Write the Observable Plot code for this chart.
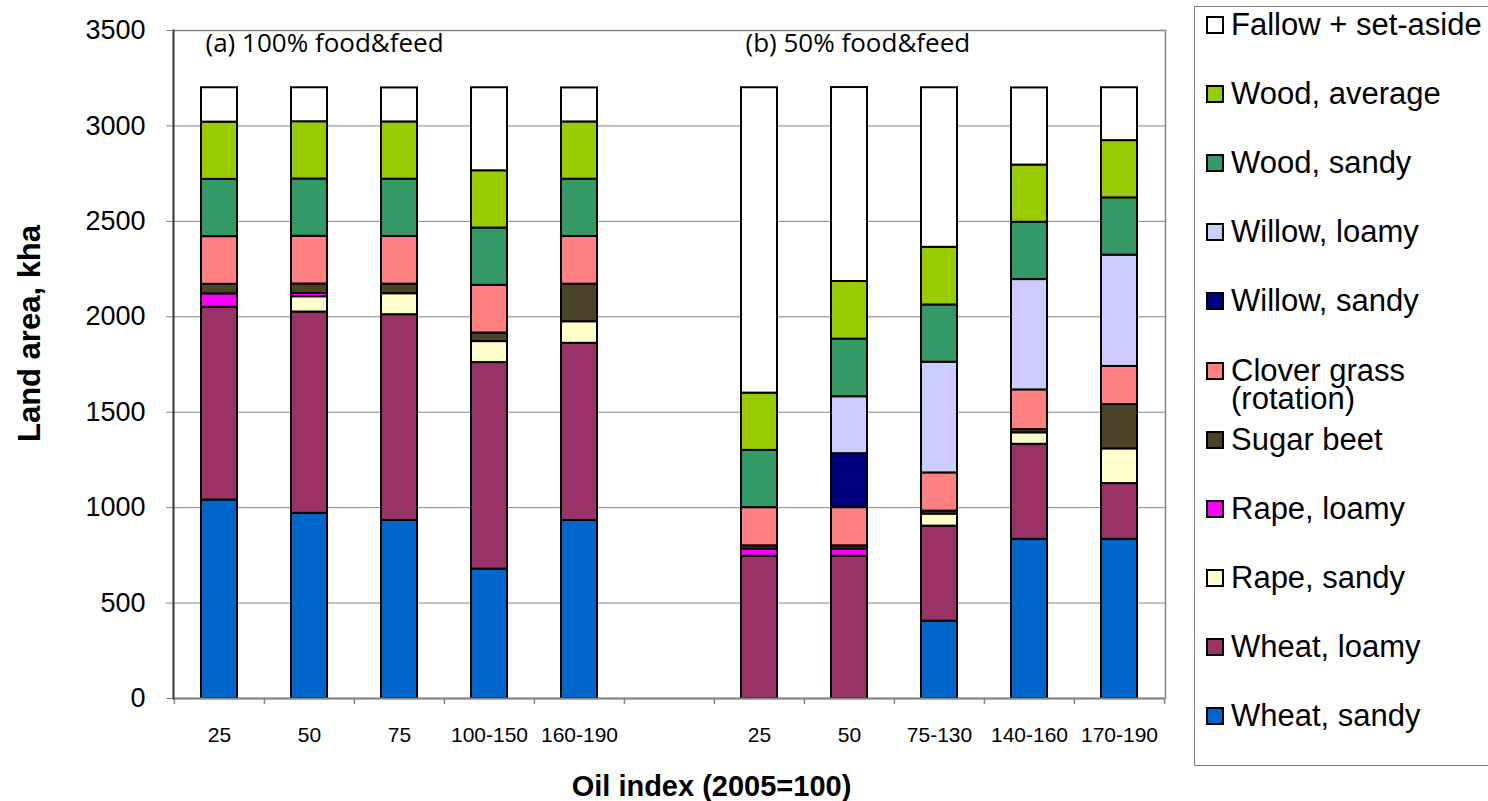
<!DOCTYPE html>
<html>
<head>
<meta charset="utf-8">
<script src="https://cdn.jsdelivr.net/npm/d3@7"></script>
<script src="https://cdn.jsdelivr.net/npm/@observablehq/plot@0.6"></script>
<style>
  body { margin: 0; background: #fff; }
  #wrap { position: relative; width: 1488px; height: 801px; overflow: hidden; font-family: "Liberation Sans", Arial, sans-serif; }
  #wrap svg { position: absolute; left: 0; top: 0; }
  #legend { position: absolute; left: 1194px; top: 6px; width: 320px; height: 760px; border: 1px solid #808080; box-sizing: border-box; background: #fff; }
  .item { position: absolute; left: 11px; display: flex; align-items: flex-start; font-size: 31px; line-height: 28px; color: #000; }
  .sw { width: 14px; height: 14px; border: 2px solid #000; margin-top: 5px; margin-right: 7px; flex: none; }
  .lab { width: 264px; white-space: normal; }
</style>
</head>
<body>
<div id="wrap"></div>
<script>
// Categories (oil index) — index 5 is the empty gap between the two panels
const categories = ["25", "50", "75", "100-150", "160-190", "", "25", "50", "75-130", "140-160", "170-190"];
// Series, bottom to top in the stack
const series = ["Wheat, sandy", "Wheat, loamy", "Rape, sandy", "Rape, loamy", "Sugar beet",
  "Clover grass (rotation)", "Willow, sandy", "Willow, loamy", "Wood, sandy", "Wood, average", "Fallow + set-aside"];
const colors = ["#0066cc", "#993366", "#ffffcc", "#ff00ff", "#4c4228",
  "#ff8080", "#000080", "#ccccff", "#339966", "#99cc00", "#ffffff"];

// Values (kha) per category
const wheatSandy  = [1040,  970,  933,  678,  933, 0,    0,    0,  405,  834,  834];
const wheatLoamy  = [1010, 1055, 1078, 1082,  928, 0,  745,  745,  498,  498,  292];
const rapeSandy   = [   0,   80,  110,  110,  113, 0,    0,    0,   63,   60,  182];
const rapeLoamy   = [  70,   17,    0,    0,    0, 0,   38,   38,    0,    0,    0];
const sugarBeet   = [  50,   50,   50,   45,  197, 0,   17,   17,   16,   17,  232];
const cloverGrass = [ 250,  250,  250,  250,  250, 0,  200,  200,  200,  208,  200];
const willowSandy = [   0,    0,    0,    0,    0, 0,    0,  283,    0,    0,    0];
const willowLoamy = [   0,    0,    0,    0,    0, 0,    0,  298,  580,  578,  583];
const woodSandy   = [ 300,  300,  300,  300,  300, 0,  300,  302,  300,  300,  300];
const woodAverage = [ 300,  300,  300,  300,  300, 0,  300,  302,  302,  300,  300];
const fallow      = [ 180,  178,  178,  435,  178, 0, 1600, 1016,  836,  404,  277];

const yTicks = [0, 500, 1000, 1500, 2000, 2500, 3000, 3500];
const panelLabels = [
  {cat: 0, label: "(a) 100% food&feed"},
  {cat: 6, label: "(b) 50% food&feed"}
];
const xTitle = "Oil index (2005=100)";
const yTitle = "Land area, kha";

const values = [wheatSandy, wheatLoamy, rapeSandy, rapeLoamy, sugarBeet, cloverGrass,
  willowSandy, willowLoamy, woodSandy, woodAverage, fallow];

const keys = categories.map((c, i) => i + "|" + c);
const data = [];
series.forEach((s, j) => values[j].forEach((v, i) => {
  if (v > 0) data.push({key: keys[i], series: s, value: v});
}));
const labels = panelLabels.map(d => ({key: keys[d.cat], label: d.label}));

const width = 1488, height = 801;
const mL = 173, mR = 323, mT = 30, mB = 103;
const step = (width - mL - mR) / keys.length;
const fmt = k => k.split("|")[1];
const gray = "#868686";

const chart = Plot.plot({
  width, height,
  marginLeft: mL, marginRight: mR, marginTop: mT, marginBottom: mB,
  style: {fontFamily: "'Liberation Sans', Arial, sans-serif", background: "transparent", color: "#000", overflow: "visible"},
  x: {type: "band", domain: keys, paddingInner: 0.6, paddingOuter: 0.3, tickFormat: fmt, label: null},
  y: {domain: [0, 3500], label: null},
  color: {type: "ordinal", domain: series, range: colors},
  marks: [
    Plot.gridY(yTicks, {stroke: gray, strokeOpacity: 1, strokeWidth: 1}),
    Plot.frame({stroke: gray, strokeWidth: 1.5}),
    Plot.barY(data, {x: "key", y: "value", fill: "series", stroke: "#000", strokeWidth: 2}),
    Plot.ruleY([0], {stroke: gray, strokeWidth: 2}),
    Plot.axisY(yTicks, {tickSize: 7, tickPadding: 21, fontSize: 27, stroke: gray, label: null, tickFormat: d => String(d)}),
    Plot.axisX({ticks: keys, tickSize: 0, tickPadding: 29, fontSize: 21, label: null, tickFormat: fmt}),
    Plot.axisX({ticks: keys, tickSize: 6, tickFormat: () => "", dx: -step / 2, stroke: gray, strokeWidth: 1.5, label: null}),
    Plot.axisX({ticks: [keys[keys.length - 1]], tickSize: 6, tickFormat: () => "", dx: step / 2, stroke: gray, strokeWidth: 1.5, label: null}),
    Plot.frame({anchor: "left", stroke: "#404040", strokeWidth: 2}),
    Plot.text(labels, {x: "key", text: "label", frameAnchor: "top", textAnchor: "start", lineAnchor: "top",
      dx: -14, dy: 3, fontFamily: "'Open Sans', sans-serif", fontSize: 26, fill: "#000"}),
    Plot.text([xTitle], {text: d => d, frameAnchor: "bottom", textAnchor: "middle", lineAnchor: "middle",
      dx: 42, dy: 88, fontWeight: "bold", fontSize: 29, fill: "#000"}),
    Plot.text([yTitle], {text: d => d, frameAnchor: "left", textAnchor: "middle", lineAnchor: "middle",
      dx: -143, dy: -31, rotate: -90, fontWeight: "bold", fontSize: 31, fill: "#000"})
  ]
});

const wrap = document.getElementById("wrap");
wrap.appendChild(chart);

// Legend (reverse order, like the original)
const legend = document.createElement("div");
legend.id = "legend";
const legendSeries = series.map((s, j) => ({s, c: colors[j]})).reverse();
legendSeries.forEach((d, i) => {
  const item = document.createElement("div");
  item.className = "item";
  item.style.top = (18 + i * 69.1 - 14) + "px";
  const sw = document.createElement("div");
  sw.className = "sw";
  sw.style.background = d.c;
  const lab = document.createElement("div");
  lab.className = "lab";
  lab.textContent = d.s;
  item.appendChild(sw);
  item.appendChild(lab);
  legend.appendChild(item);
});
wrap.appendChild(legend);
</script>
</body>
</html>
